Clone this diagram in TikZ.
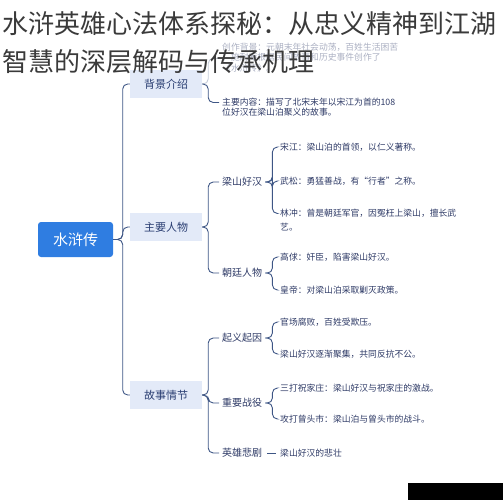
\documentclass[tikz,border=0pt]{standalone}
\usepackage{fontspec}
\setmainfont{Noto Sans CJK SC}
\usetikzlibrary{positioning}
\definecolor{lnc}{HTML}{3E5685}
\definecolor{rootc}{HTML}{2F7DE1}
\definecolor{topc}{HTML}{E3EAF8}
\definecolor{topt}{HTML}{2B3F73}
\definecolor{leaft}{HTML}{2E3A66}
\definecolor{titlec}{HTML}{3A3A3A}

\begin{document}
\begin{tikzpicture}[x=1pt,y=-1pt,
    conn/.style={draw=lnc,line width=0.9pt,rounded corners=5pt},
    rootbox/.style={fill=rootc,text=white,rounded corners=3pt,minimum width=75pt,minimum height=35pt,font=\fontsize{15}{18}\selectfont},
    topic/.style={fill=topc,text=topt,minimum width=72pt,minimum height=28pt,font=\fontsize{11}{13}\selectfont},
    sub/.style={anchor=west,inner sep=0pt,text=leaft,font=\fontsize{10}{12}\selectfont},
    leaf/.style={anchor=west,inner sep=0pt,text=leaft,align=left,font=\fontsize{8.8}{14}\selectfont}]
\useasboundingbox (0,0) rectangle (503,500);

% root and main topics
\node[rootbox] (shz) at (75.5,239.5) {水浒传};
\node[topic] (bjjs) at (166,84) {背景介绍};
\node[topic] (zyrw) at (166,227) {主要人物};
\node[topic] (gsqj) at (166,395) {故事情节};

% second level
\node[sub] (lshh) at (222,182) {梁山好汉};
\node[sub] (ctrw) at (222,273) {朝廷人物};
\node[sub] (qyqy) at (222,338) {起义起因};
\node[sub] (zyzy) at (222,403) {重要战役};
\node[sub] (yxbj) at (222,453) {英雄悲剧};

% leaves
\node[leaf,anchor=north west,text=leaft!40,font=\fontsize{8.8}{10.5}\selectfont] (czbj) at (222,42.5)
  {创作背景：元朝末年社会动荡，百姓生活困苦\\，施耐庵根据民间故事和历史事件创作了\\《水浒传》。};
\node[leaf,anchor=north west,font=\fontsize{8.8}{10.5}\selectfont] (zynr) at (222,97.5)
  {主要内容：描写了北宋末年以宋江为首的108\\位好汉在梁山泊聚义的故事。};
\node[leaf] (sj) at (280,147) {宋江：梁山泊的首领，以仁义著称。};
\node[leaf] (ws) at (280,181) {武松：勇猛善战，有“行者”之称。};
\node[leaf,anchor=north west] (lc) at (280,208.5) {林冲：曾是朝廷军官，因冤枉上梁山，擅长武\\艺。};
\node[leaf] (gq) at (280,257) {高俅：奸臣，陷害梁山好汉。};
\node[leaf] (hd) at (280,290) {皇帝：对梁山泊采取剿灭政策。};
\node[leaf] (gcfb) at (280,322) {官场腐败，百姓受欺压。};
\node[leaf] (lsjj) at (280,354) {梁山好汉逐渐聚集，共同反抗不公。};
\node[leaf] (sdzj) at (280,388) {三打祝家庄：梁山好汉与祝家庄的激战。};
\node[leaf] (gdzt) at (280,419) {攻打曾头市：梁山泊与曾头市的战斗。};
\node[leaf] (lsbz) at (280,453) {梁山好汉的悲壮};

% connectors
\foreach \t in {bjjs,zyrw,gsqj}
  \draw[conn] (shz.east) -- ++(9.5,0) |- (\t.west);
\draw[conn,draw=lnc!30,shorten >=3pt] (bjjs.east) -- ++(6,0) |- ([yshift=-16pt]czbj.north west);
\draw[conn,shorten >=3pt] (bjjs.east) -- ++(6,0) |- ([yshift=-5pt]zynr.north west);
\foreach \t in {lshh,ctrw}
  \draw[conn,shorten >=3pt] (zyrw.east) -- ++(6,0) |- (\t.west);
\foreach \t in {qyqy,zyzy,yxbj}
  \draw[conn,shorten >=3pt] (gsqj.east) -- ++(6,0) |- (\t.west);
\foreach \t in {sj,ws}
  \draw[conn,shorten <=3pt,shorten >=3pt] (lshh.east) -- ++(10,0) |- (\t.west);
\draw[conn,shorten <=3pt,shorten >=3pt] (lshh.east) -- ++(10,0) |- ([yshift=-5pt]lc.north west);
\foreach \t in {gq,hd}
  \draw[conn,shorten <=3pt,shorten >=3pt] (ctrw.east) -- ++(10,0) |- (\t.west);
\foreach \t in {gcfb,lsjj}
  \draw[conn,shorten <=3pt,shorten >=3pt] (qyqy.east) -- ++(10,0) |- (\t.west);
\foreach \t in {sdzj,gdzt}
  \draw[conn,shorten <=3pt,shorten >=3pt] (zyzy.east) -- ++(10,0) |- (\t.west);
\draw[conn,shorten <=5pt,shorten >=4pt] (yxbj.east) -- (lsbz.west);

% title over the map
\node[anchor=west,inner sep=0pt,text=titlec,font=\fontsize{26}{30}\selectfont] (ttl1) at (2,24) {水浒英雄心法体系探秘：从忠义精神到江湖};
\node[anchor=west,inner sep=0pt,text=titlec,font=\fontsize{26}{30}\selectfont] (ttl2) at (2,62) {智慧的深层解码与传承机理};

\fill[black] (408,483) rectangle (503,500);
\end{tikzpicture}
\end{document}
